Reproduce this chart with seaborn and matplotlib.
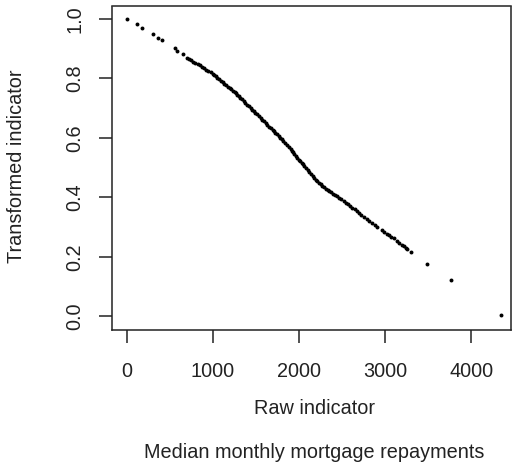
import numpy as np
import pandas as pd
import matplotlib
matplotlib.use("Agg")
import matplotlib.pyplot as plt
import seaborn as sns

# DATA - values -------------------------------------------------------------------------
raw_indicator = [
    0, 116, 182, 302, 371, 406, 557, 580, 661, 704,
    725, 750, 775, 800, 825, 850, 875, 900, 925, 950, 975, 1000, 1013,
    1035, 1055, 1075, 1095, 1115, 1135, 1155, 1175, 1195, 1215, 1235, 1255, 1270, 1284,
    1300, 1320, 1340, 1360, 1380, 1400, 1420, 1440, 1460, 1477,
    1495, 1515, 1535, 1555, 1575, 1595, 1615, 1635, 1655, 1675, 1695, 1709,
    1725, 1745, 1765, 1785, 1800, 1820, 1840, 1860, 1880, 1903,
    1918, 1933, 1948, 1963, 1980, 2000, 2015, 2030, 2045, 2060,
    2080, 2100, 2120, 2140, 2160, 2180, 2195, 2212,
    2232, 2252, 2272, 2292, 2312, 2332, 2352, 2367,
    2390, 2415, 2440, 2465, 2490, 2521,
    2545, 2570, 2595, 2620, 2645, 2676,
    2700, 2725, 2760, 2790, 2811, 2850, 2880, 2908, 2960, 2990, 3024,
    3045, 3070, 3100, 3140, 3165, 3190, 3215, 3240, 3256, 3295,
    3488, 3759, 4339,
]
transformed = [
    1.000, 0.983, 0.971, 0.950, 0.937, 0.928, 0.901, 0.894, 0.882, 0.868,
    0.865, 0.861, 0.857, 0.852, 0.848, 0.844, 0.840, 0.835, 0.830, 0.826, 0.821, 0.816, 0.813,
    0.808, 0.803, 0.798, 0.793, 0.788, 0.783, 0.778, 0.773, 0.768, 0.763, 0.758, 0.753, 0.750, 0.746,
    0.741, 0.735, 0.730, 0.724, 0.718, 0.712, 0.706, 0.700, 0.695, 0.690,
    0.685, 0.679, 0.673, 0.667, 0.662, 0.656, 0.650, 0.644, 0.638, 0.633, 0.627, 0.623,
    0.618, 0.612, 0.606, 0.600, 0.595, 0.589, 0.583, 0.576, 0.570, 0.563,
    0.557, 0.552, 0.546, 0.540, 0.534, 0.527, 0.522, 0.516, 0.511, 0.506,
    0.499, 0.493, 0.486, 0.479, 0.472, 0.466, 0.460, 0.455,
    0.449, 0.444, 0.439, 0.434, 0.429, 0.425, 0.420, 0.417,
    0.413, 0.408, 0.404, 0.399, 0.395, 0.389,
    0.383, 0.378, 0.372, 0.366, 0.360, 0.353,
    0.347, 0.341, 0.333, 0.326, 0.322, 0.313, 0.307, 0.302, 0.291, 0.285, 0.278,
    0.273, 0.268, 0.262, 0.252, 0.246, 0.241, 0.236, 0.231, 0.227, 0.218,
    0.177, 0.124, 0.004,
]
x_ticks = [0, 1000, 2000, 3000, 4000]
y_ticks = [0.0, 0.2, 0.4, 0.6, 0.8, 1.0]
y_tick_labels = ["0.0", "0.2", "0.4", "0.6", "0.8", "1.0"]

data = pd.DataFrame({"Raw": raw_indicator, "Transformed": transformed})

# STYLE -----------------------------------------------------------------------------------
sns.set_style("ticks")
plt.rcParams["font.family"] = ["Liberation Sans", "DejaVu Sans"]

fig = plt.figure(figsize=(5.13, 4.70), dpi=100)
ax = fig.add_axes([111.5 / 513, 1 - 329.5 / 470, 400 / 513, 323 / 470])

sns.scatterplot(
    data,
    x="Raw",
    y="Transformed",
    color="black",
    s=8,
    linewidth=0,
    ax=ax
)

ax.set_xlim(-174, 4466)
ax.set_ylim(-0.044, 1.042)
ax.set_xticks(x_ticks)
ax.set_xticklabels([str(t) for t in x_ticks])
ax.set_yticks(y_ticks)
ax.set_yticklabels(y_tick_labels, rotation=90, va="center")

for sp in ax.spines.values():
    sp.set_visible(True)
    sp.set_linewidth(1.1)
    sp.set_color("#222222")

ax.tick_params(axis="both", direction="out", length=9.5, width=1.1,
               color="#222222", labelsize=14.3, labelcolor="#222222")
ax.tick_params(axis="x", pad=14)
ax.tick_params(axis="y", pad=10)

ax.set_xlabel("")
ax.set_ylabel("")

# axis titles placed like R's mtext lines
fig.text(17 / 513, 1 - 166 / 470, "Transformed indicator", rotation=90,
         ha="center", va="center", fontsize=14.3, color="#222222")
fig.text(314 / 513, 1 - 408 / 470, "Raw indicator", ha="center", va="center",
         fontsize=14.3, color="#222222")
fig.text(314 / 513, 1 - 452 / 470, "Median monthly mortgage repayments",
         ha="center", va="center", fontsize=14.3, color="#222222")

fig.savefig("out.png", dpi=100)
